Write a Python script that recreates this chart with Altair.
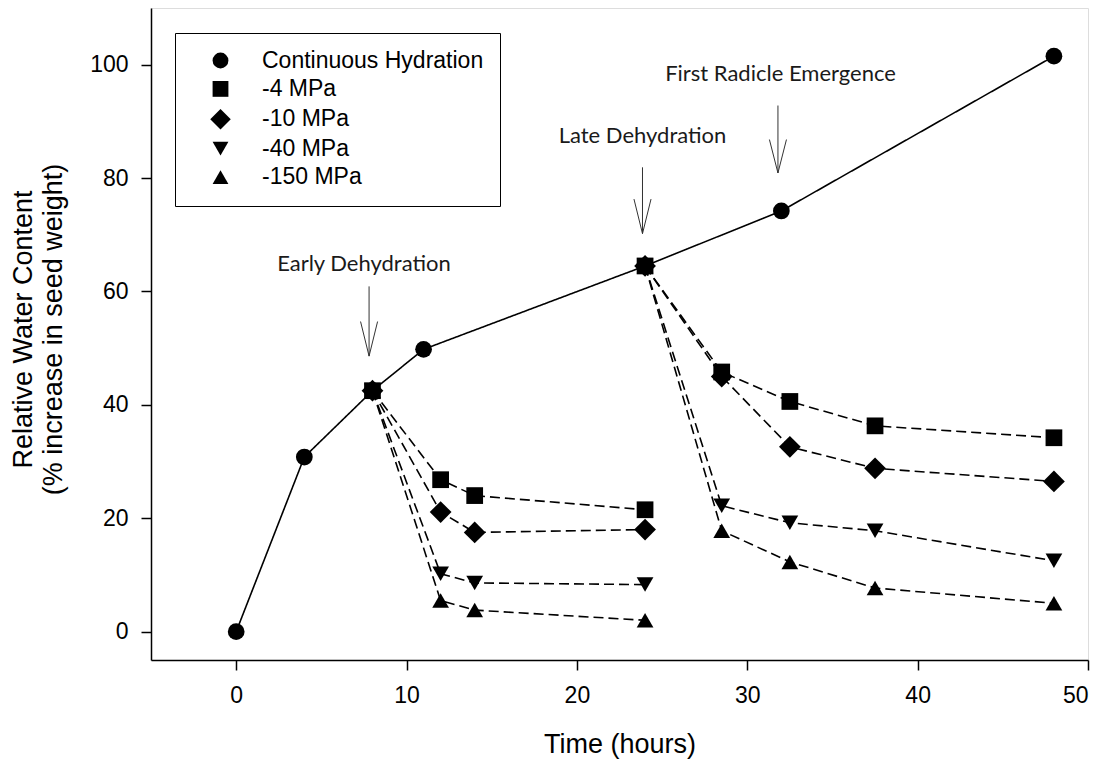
import altair as alt
import pandas as pd

# ---- data ----
ch_name = "Continuous Hydration"
ch_t = [0, 4, 8, 11, 24, 32, 48]
ch_v = [0, 30.8, 42.5, 49.8, 64.5, 74.2, 101.5]

early_t = [8, 12, 14, 24]
late_t = [24, 28.5, 32.5, 37.5, 48]

series_names = ["-4 MPa", "-10 MPa", "-40 MPa", "-150 MPa"]
early_4 = [42.5, 26.8, 24.0, 21.5]
early_10 = [42.5, 21.1, 17.5, 18.0]
early_40 = [42.5, 10.2, 8.6, 8.3]
early_150 = [42.5, 5.5, 3.8, 2.0]
late_4 = [64.5, 45.8, 40.6, 36.3, 34.2]
late_10 = [64.5, 45.0, 32.6, 28.8, 26.5]
late_40 = [64.5, 22.2, 19.2, 17.8, 12.5]
late_150 = [64.5, 17.8, 12.3, 7.7, 5.0]

legend_order = [ch_name] + series_names
diamond_path = "M-1.3,0L0,-1.3L1.3,0L0,1.3Z"
shape_range = ["circle", "square", diamond_path, "triangle-down", "triangle-up"]

ann_text = ["Early Dehydration", "Late Dehydration", "First Radicle Emergence"]
ann_x = [7.5, 23.85, 31.95]
ann_y = [64.9, 87.5, 98.4]

arrow_x = [7.8, 23.85, 31.8]
arrow_top = [60.9, 81.9, 92.8]
arrow_tip = [48.6, 70.2, 80.9]
arrow_barb = [54.7, 76.3, 86.8]
barb_half = 0.5

x_ticks = [0, 10, 20, 30, 40, 50]
y_ticks = [0, 20, 40, 60, 80, 100]

# ---- tables ----
rows = []
for t, v in zip(ch_t, ch_v):
    rows.append(dict(series=ch_name, group="ch", dash="solid", t=t, v=v))
early = [early_4, early_10, early_40, early_150]
late = [late_4, late_10, late_40, late_150]
for name, ev, lv in zip(series_names, early, late):
    for t, v in zip(early_t, ev):
        rows.append(dict(series=name, group=name + "_e", dash="dashed", t=t, v=v))
    for t, v in zip(late_t, lv):
        rows.append(dict(series=name, group=name + "_l", dash="dashed", t=t, v=v))
df = pd.DataFrame(rows)

ann_df = pd.DataFrame(dict(text=ann_text, t=ann_x, v=ann_y))

seg = []
for ax, top, tip, barb in zip(arrow_x, arrow_top, arrow_tip, arrow_barb):
    seg.append(dict(t=ax, v=top, t2=ax, v2=tip))
    seg.append(dict(t=ax - barb_half, v=barb, t2=ax, v2=tip))
    seg.append(dict(t=ax + barb_half, v=barb, t2=ax, v2=tip))
seg_df = pd.DataFrame(seg)

FONT = "Liberation Sans"

x_enc = alt.X(
    "t:Q",
    scale=alt.Scale(domain=[-5, 50], nice=False, zero=False),
    axis=alt.Axis(
        values=x_ticks, title="Time (hours)", grid=False,
        tickSize=10, labelPadding=14, labelFontSize=23, titleFontSize=27,
        titleFontWeight="normal", titleY=92, titleBaseline="alphabetic",
        labelFont=FONT, titleFont=FONT, labelColor="black", titleColor="black",
        domainColor="black", tickColor="black", domainWidth=1.5, tickWidth=1.5,
    ),
)
y_enc = alt.Y(
    "v:Q",
    scale=alt.Scale(domain=[-5, 110], nice=False, zero=False),
    axis=alt.Axis(
        values=y_ticks, title=["Relative Water Content", "(% increase in seed weight)"],
        grid=False, tickSize=10, labelPadding=13, labelFontSize=23, titleFontSize=27,
        titleFontWeight="normal", titleX=-141, titleY=321, titleBaseline="top",
        titleAngle=-90, titleAlign="center", titleLineHeight=30,
        labelFont=FONT, titleFont=FONT, labelColor="black", titleColor="black",
        domainColor="black", tickColor="black", domainWidth=1.5, tickWidth=1.5,
    ),
)

lines = alt.Chart(df).mark_line(color="black", strokeWidth=1.6).encode(
    x=x_enc,
    y=y_enc,
    detail="group:N",
    strokeDash=alt.StrokeDash(
        "dash:N",
        scale=alt.Scale(domain=["solid", "dashed"], range=[[1, 0], [10, 5]]),
        legend=None,
    ),
)

points = alt.Chart(df).mark_point(filled=True, color="black", opacity=1, size=280).encode(
    x=x_enc,
    y=y_enc,
    shape=alt.Shape(
        "series:N",
        scale=alt.Scale(domain=legend_order, range=shape_range),
        sort=legend_order,
        legend=alt.Legend(
            title=None, orient="none", legendX=24, legendY=25,
            padding=16, symbolOffset=18, labelOffset=30, rowPadding=4.4,
            strokeColor="black", fillColor="white",
            symbolFillColor="black", symbolStrokeColor="black", symbolSize=250,
            symbolOpacity=1, labelFontSize=23, labelFont=FONT, labelColor="black",
            labelLimit=400,
        ),
    ),
)

arrows = alt.Chart(seg_df).mark_rule(color="#333333", strokeWidth=1).encode(
    x=x_enc, y=y_enc, x2="t2:Q", y2="v2:Q"
)

labels = alt.Chart(ann_df).mark_text(
    font="Lato", fontSize=22, color="#1a1a1a", align="center", baseline="middle"
).encode(x=x_enc, y=y_enc, text="text:N")

chart = alt.layer(lines, points, arrows, labels).properties(
    width=937,
    height=652,
    autosize=alt.AutoSizeParams(type="none"),
    padding={"left": 143, "top": 0, "right": 11, "bottom": 102},
).configure_view(stroke="black", strokeWidth=1.5).configure(background="white")

chart.save("out.html", embed_options={"renderer": "svg", "actions": False})
